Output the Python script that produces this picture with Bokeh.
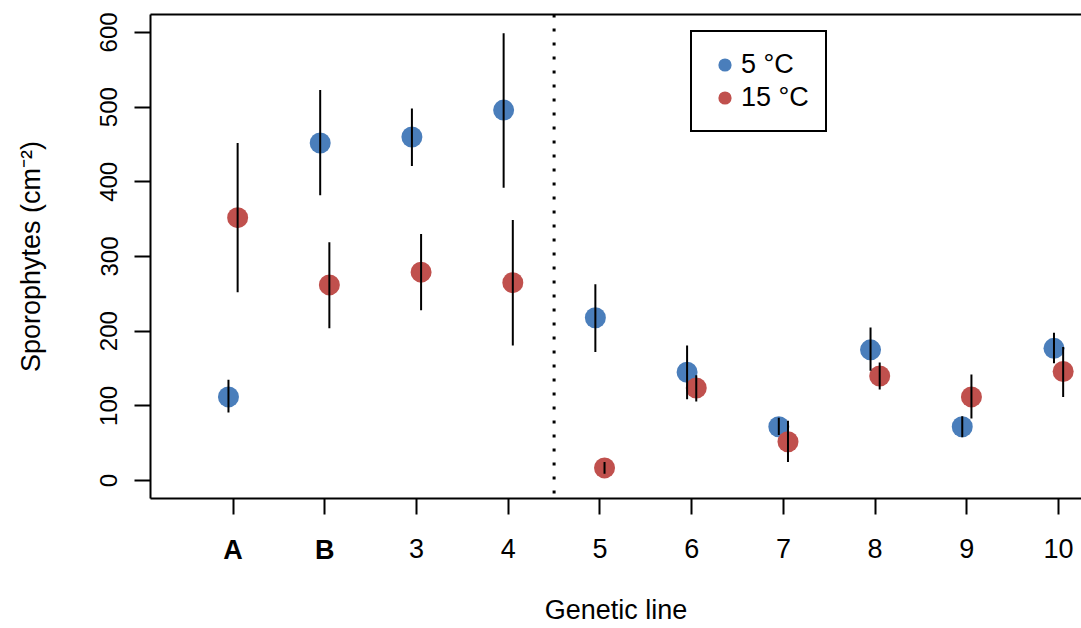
from bokeh.plotting import figure
from bokeh.models import (ColumnDataSource, Range1d, FixedTicker, LinearAxis, Span,
                          Legend, LegendItem)
from bokeh.embed import file_html
from bokeh.resources import INLINE

# ---- data ----
lines = [1, 2, 3, 4, 5, 6, 7, 8, 9, 10]
tick_labels = ["A", "B", "3", "4", "5", "6", "7", "8", "9", "10"]
bold_lines = [1, 2]
y_ticks = [0, 100, 200, 300, 400, 500, 600]

cold_mean = [112, 452, 460, 496, 218, 145, 72, 175, 72, 177]
cold_low = [91, 382, 421, 392, 172, 109, 61, 147, 58, 157]
cold_high = [135, 523, 498, 599, 263, 181, 84, 205, 86, 198]

warm_mean = [352, 262, 279, 265, 17, 124, 52, 140, 112, 146]
warm_low = [252, 204, 228, 181, 9, 106, 25, 122, 83, 112]
warm_high = [452, 319, 330, 349, 25, 141, 80, 158, 142, 179]

offset = 0.05
divider = 4.5
BLUE = "#4A7EBB"
RED = "#C0504D"
FONT = "Liberation Sans"
FS_X = "27px"
FS_Y = "24px"
FS_T = "27px"

cold = ColumnDataSource(dict(x=[v - offset for v in lines], y=cold_mean,
                             lo=cold_low, hi=cold_high))
warm = ColumnDataSource(dict(x=[v + offset for v in lines], y=warm_mean,
                             lo=warm_low, hi=warm_high))

p = figure(width=1081, height=628, output_backend="svg", toolbar_location=None,
           x_range=Range1d(0.1, 10.25), y_range=Range1d(-24, 624),
           min_border_left=150, min_border_right=0, min_border_top=14,
           min_border_bottom=130)
p.outline_line_color = None
p.grid.visible = False
p.background_fill_color = "white"
p.border_fill_color = "white"

# points
r_cold = p.scatter("x", "y", source=cold, size=21, color=BLUE, line_color=None)
r_warm = p.scatter("x", "y", source=warm, size=21, color=RED, line_color=None)
# error bars on top
p.segment(x0="x", y0="lo", x1="x", y1="hi", source=cold, line_color="black", line_width=2)
p.segment(x0="x", y0="lo", x1="x", y1="hi", source=warm, line_color="black", line_width=2)

# dotted divider
p.add_layout(Span(location=divider, dimension="height", line_color="black",
                  line_width=3, line_dash="3 11"))

# axes
def style_axis(ax, fs):
    ax.axis_line_width = 2
    ax.axis_line_color = "black"
    ax.major_tick_line_width = 2
    ax.major_tick_line_color = "black"
    ax.major_tick_in = 0
    ax.major_tick_out = 16
    ax.minor_tick_in = 0
    ax.minor_tick_out = 0
    ax.major_label_text_font = FONT
    ax.major_label_text_font_size = fs
    ax.major_label_text_color = "black"
    ax.axis_label_text_font = FONT
    ax.axis_label_text_font_size = FS_T
    ax.axis_label_text_font_style = "normal"
    ax.axis_label_text_color = "black"

xa = p.xaxis[0]
style_axis(xa, FS_X)
xa.ticker = FixedTicker(ticks=lines)
xa.major_label_overrides = {v: ("" if v in bold_lines else t) for v, t in zip(lines, tick_labels)}
xa.major_label_standoff = 24

# second bottom axis: bold labels A and B on the same row, plus the axis title
xb = LinearAxis(ticker=FixedTicker(ticks=bold_lines))
style_axis(xb, FS_X)
xb.axis_line_color = None
xb.major_tick_out = 0
xb.major_label_text_font_style = "bold"
xb.major_label_overrides = {v: t for v, t in zip(lines, tick_labels) if v in bold_lines}
xb.major_label_standoff = -26
xb.axis_label = "Genetic line"
xb.axis_label_standoff = 27
p.add_layout(xb, "below")

ya = p.yaxis[0]
style_axis(ya, FS_Y)
ya.ticker = FixedTicker(ticks=y_ticks)
ya.major_label_orientation = "vertical"
ya.major_label_standoff = 17
ya.axis_label = "Sporophytes (cm\u207b\u00b2)"
ya.axis_label_standoff = 52

top = LinearAxis(ticker=FixedTicker(ticks=[]), axis_line_width=2, axis_line_color="black",
                 major_tick_in=0, major_tick_out=0, minor_tick_in=0, minor_tick_out=0,
                 major_label_standoff=0, major_label_text_font_size="0px")
p.add_layout(top, "above")

legend = Legend(items=[LegendItem(label="5 \u00b0C", renderers=[r_cold]),
                       LegendItem(label="15 \u00b0C", renderers=[r_warm])],
                location=(540, 366))
legend.glyph_width = 33
legend.glyph_height = 33
legend.padding = 16
legend.spacing = 0
legend.label_standoff = 0
legend.margin = 0
legend.label_text_font = FONT
legend.label_text_font_size = FS_T
legend.label_text_color = "black"
legend.border_line_color = "black"
legend.border_line_alpha = 1
legend.border_line_width = 2
legend.background_fill_color = "white"
legend.background_fill_alpha = 1
p.add_layout(legend)

open("out.html", "w").write(file_html(p, INLINE))
